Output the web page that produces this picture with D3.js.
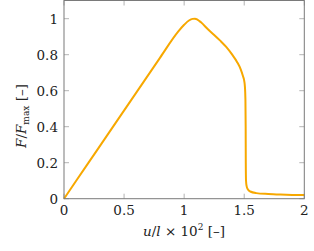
<!DOCTYPE html>
<html lang="en">
<head>
<meta charset="UTF-8">
<title>force displacement</title>
<script src="https://d3js.org/d3.v7.min.js"></script>
<style>
    body { margin: 0; background: #fff; }
    svg { display: block; }
</style>
</head>
<body>
<script>
    // data
    var uVals = [0, 0.2, 0.4, 0.6, 0.8, 0.95, 1.0, 1.04, 1.07, 1.09, 1.11, 1.14, 1.2, 1.25, 1.3, 1.35, 1.4, 1.44, 1.47, 1.49, 1.5, 1.506, 1.51, 1.512, 1.513, 1.515, 1.52, 1.53, 1.55, 1.6, 1.7, 1.8, 1.9, 2.0]
    var fVals = [0, 0.196, 0.392, 0.588, 0.784, 0.928, 0.966, 0.99, 0.999, 1.0, 0.995, 0.98, 0.94, 0.91, 0.878, 0.843, 0.8, 0.76, 0.72, 0.68, 0.655, 0.62, 0.55, 0.4, 0.2, 0.1, 0.07, 0.052, 0.04, 0.031, 0.026, 0.023, 0.021, 0.02]
    var xTicks = [0, 0.5, 1, 1.5, 2]
    var yTicks = [0, 0.2, 0.4, 0.6, 0.8, 1]

    var w = 314, h = 251
    var pLeft = 64, pRight = 304.3, pTop = 0.5, pBottom = 198.7
    var font = '"DejaVu Serif", "Liberation Serif", serif'

    var svg = d3.select('body').append('svg')
        .attr('width', w).attr('height', h)
        .attr('font-family', font)

    var xScale = d3.scaleLinear().domain([0, 2]).range([pLeft, pRight])
    var yScale = d3.scaleLinear().domain([0, 1.1]).range([pBottom, pBottom - 198])

    var data = uVals.map(function (u, i) { return [u, fVals[i]] })

    // ticks inside, on all four sides
    var tl = 5
    var g = svg.append('g').attr('stroke', '#a0a0a0').attr('stroke-width', 0.8)
    xTicks.forEach(function (t) {
        g.append('line').attr('x1', xScale(t)).attr('x2', xScale(t)).attr('y1', pBottom).attr('y2', pBottom - tl)
        g.append('line').attr('x1', xScale(t)).attr('x2', xScale(t)).attr('y1', pTop).attr('y2', pTop + tl)
    })
    yTicks.forEach(function (t) {
        g.append('line').attr('x1', pLeft).attr('x2', pLeft + tl).attr('y1', yScale(t)).attr('y2', yScale(t))
        g.append('line').attr('x1', pRight).attr('x2', pRight - tl).attr('y1', yScale(t)).attr('y2', yScale(t))
    })

    var line = d3.line()
        .x(function (d) { return xScale(d[0]) })
        .y(function (d) { return yScale(d[1]) })
        .curve(d3.curveMonotoneX)

    svg.append('path')
        .datum(data)
        .attr('d', line)
        .attr('fill', 'none')
        .attr('stroke', '#f7a800')
        .attr('stroke-width', 2)
        .attr('stroke-linejoin', 'round')

    // frame
    svg.append('rect')
        .attr('x', pLeft).attr('y', pTop)
        .attr('width', pRight - pLeft).attr('height', pBottom - pTop)
        .attr('fill', 'none').attr('stroke', '#7a7a7a').attr('stroke-width', 1)

    // tick labels
    svg.selectAll('.xt').data(xTicks).enter().append('text')
        .attr('x', function (d) { return xScale(d) })
        .attr('y', 215)
        .attr('text-anchor', 'middle')
        .attr('font-size', 13.5)
        .attr('fill', '#222')
        .text(function (d) { return d })

    svg.selectAll('.yt').data(yTicks).enter().append('text')
        .attr('x', 58)
        .attr('y', function (d) { return yScale(d) + 5 })
        .attr('text-anchor', 'end')
        .attr('font-size', 13.5)
        .attr('fill', '#222')
        .text(function (d) { return d })

    // axis labels
    var xl = svg.append('text')
        .attr('x', 184).attr('y', 236)
        .attr('text-anchor', 'middle')
        .attr('font-size', 13.5)
        .attr('fill', '#222')
    xl.append('tspan').attr('font-style', 'italic').text('u')
    xl.append('tspan').text('/')
    xl.append('tspan').attr('font-style', 'italic').text('l')
    xl.append('tspan').text(' × 10')
    xl.append('tspan').attr('font-size', 9).attr('dy', -6).text('2')
    xl.append('tspan').attr('dy', 6).text(' [–]')

    var yl = svg.append('text')
        .attr('transform', 'translate(26,116) rotate(-90)')
        .attr('text-anchor', 'middle')
        .attr('font-size', 13.5)
        .attr('fill', '#222')
    yl.append('tspan').attr('font-style', 'italic').text('F')
    yl.append('tspan').text('/')
    yl.append('tspan').attr('font-style', 'italic').text('F')
    yl.append('tspan').attr('font-size', 9).attr('dy', 3).text('max')
    yl.append('tspan').attr('dy', -3).text('  [–]')
</script>
</body>
</html>
